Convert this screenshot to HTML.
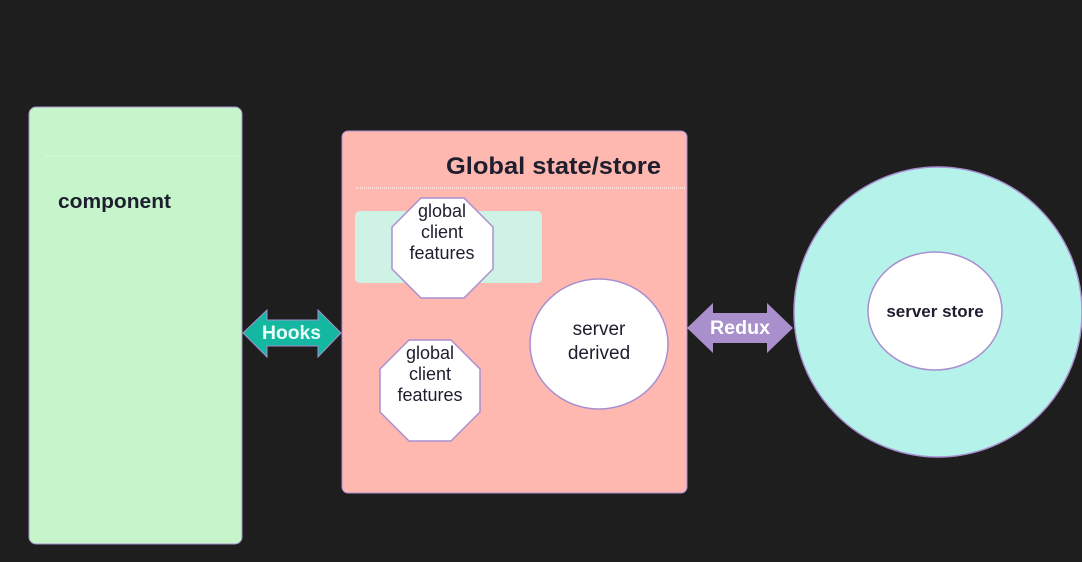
<!DOCTYPE html>
<html><head><meta charset="utf-8"><style>
html,body{margin:0;padding:0;background:#1e1e1e;}
svg{display:block;}
text{font-family:"Liberation Sans",sans-serif;}
</style></head><body>
<svg width="1082" height="562" viewBox="0 0 1082 562" xmlns="http://www.w3.org/2000/svg">
<rect width="1082" height="562" fill="#1e1e1e"/>
<rect x="29" y="107" width="213" height="437" rx="7" fill="#c6f5cb" stroke="#a98fd0" stroke-width="1"/>
<line x1="45" y1="156" x2="241" y2="156" stroke="#eef" stroke-width="1" stroke-dasharray="1 1"/>
<text x="58" y="208" font-size="20" font-weight="bold" fill="#1e1e2e" textLength="113" lengthAdjust="spacingAndGlyphs">component</text>
<rect x="342" y="131" width="345" height="362" rx="6" fill="#ffb8b0" stroke="#a98fd0" stroke-width="1"/>
<line x1="356" y1="188" x2="686" y2="188" stroke="#fff" stroke-width="1" stroke-dasharray="1 1"/>
<text x="446" y="174" font-size="24" font-weight="bold" fill="#1e1e2e" textLength="215" lengthAdjust="spacingAndGlyphs">Global state/store</text>
<rect x="355" y="211" width="187" height="72" rx="5" fill="#cff2e6"/>
<polygon points="421,198 464,198 493,227 493,269 464,298 421,298 392,269 392,227" fill="#fff" stroke="#a98fd0" stroke-width="1.5"/>
<text font-size="18" fill="#1e1e2e" text-anchor="middle"><tspan x="442" y="217">global</tspan><tspan x="442" y="238">client</tspan><tspan x="442" y="259">features</tspan></text>
<polygon points="409,340 451,340 480,369 480,412 451,441 409,441 380,412 380,369" fill="#fff" stroke="#a98fd0" stroke-width="1.5"/>
<text font-size="18" fill="#1e1e2e" text-anchor="middle"><tspan x="430" y="359">global</tspan><tspan x="430" y="380">client</tspan><tspan x="430" y="401">features</tspan></text>
<ellipse cx="599" cy="344" rx="69" ry="65" fill="#fff" stroke="#a98fd0" stroke-width="1.5"/>
<text font-size="19" fill="#1e1e2e" text-anchor="middle"><tspan x="599" y="335">server</tspan><tspan x="599" y="359">derived</tspan></text>
<ellipse cx="938" cy="312" rx="144" ry="145" fill="#b5f3ea" stroke="#a98fd0" stroke-width="1.5"/>
<ellipse cx="935" cy="311" rx="67" ry="59" fill="#fff" stroke="#a98fd0" stroke-width="1.5"/>
<text x="935" y="317" font-size="17" font-weight="bold" fill="#1e1e2e" text-anchor="middle">server store</text>
<polygon points="243,333 267,310 267,320 318,320 318,310 341,333 318,357 318,346 267,346 267,357" fill="#14b8a0" stroke="#a98fd0" stroke-width="1"/>
<text x="262" y="339" font-size="19" font-weight="bold" fill="#e8fff8" textLength="59" lengthAdjust="spacingAndGlyphs">Hooks</text>
<polygon points="687,328 713,303 713,313 767,313 767,303 793,328 767,353 767,343 713,343 713,353" fill="#a98fcb"/>
<text x="710" y="334" font-size="19" font-weight="bold" fill="#fff" textLength="60" lengthAdjust="spacingAndGlyphs">Redux</text>
</svg>
</body></html>
